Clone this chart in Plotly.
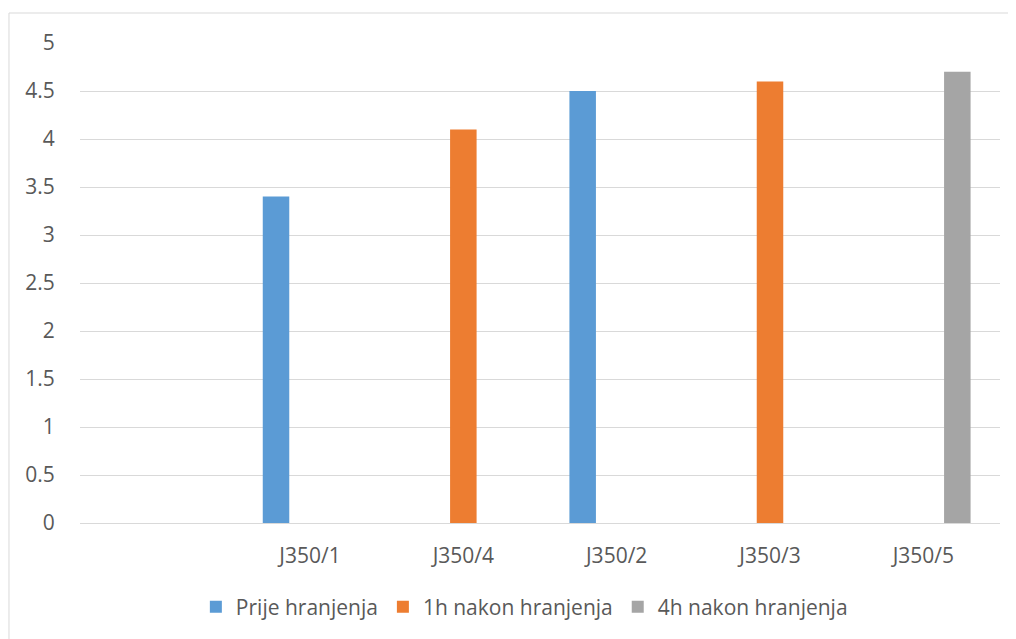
import plotly.graph_objects as go

categories = ["J350/1", "J350/4", "J350/2", "J350/3", "J350/5"]
series_names = ["Prije hranjenja", "1h nakon hranjenja", "4h nakon hranjenja"]
prije = [3.4, None, 4.5, None, None]
nakon_1h = [None, 4.1, None, 4.6, None]
nakon_4h = [None, None, None, None, 4.7]
colors = ["#5B9BD5", "#ED7D31", "#A5A5A5"]
y_ticks = [0, 0.5, 1, 1.5, 2, 2.5, 3, 3.5, 4, 4.5, 5]

text_color = "#595959"
font_family = "Open Sans, sans-serif"

fig = go.Figure()
for name, vals, col in zip(series_names, [prije, nakon_1h, nakon_4h], colors):
    fig.add_trace(go.Bar(x=categories, y=vals, name=name, marker_color=col,
                         marker_line_width=0))

fig.update_layout(
    width=1016, height=639,
    margin=dict(l=72, r=24, t=35, b=124),
    paper_bgcolor="white", plot_bgcolor="white",
    barmode="group", bargap=0.335, bargroupgap=0.22,
    font=dict(family=font_family, color=text_color, size=21),
    showlegend=True,
    legend=dict(orientation="h", x=0.483, xanchor="center", y=-0.175, yanchor="middle",
                font=dict(size=21, color=text_color), itemwidth=30,
                traceorder="normal"),
    xaxis=dict(type="category", categoryorder="array", categoryarray=categories,
               range=[-1.5, 4.5], showgrid=False, showline=True, linecolor="#d9d9d9",
               linewidth=1, ticks="outside", ticklen=14, tickcolor="rgba(0,0,0,0)",
               tickfont=dict(size=21, color=text_color), zeroline=False),
    yaxis=dict(range=[0, 5], tickvals=y_ticks, ticktext=[f"{v:g}" for v in y_ticks],
               showgrid=True, gridcolor="#d9d9d9", gridwidth=1, zeroline=False,
               showline=False, ticks="outside", ticklen=20, tickcolor="rgba(0,0,0,0)",
               tickfont=dict(size=21, color=text_color)),
    shapes=[dict(type="rect", xref="paper", yref="paper",
                 x0=-0.0772, x1=1.02, y0=-0.25, y1=1.0625,
                 line=dict(color="#d9d9d9", width=1), fillcolor="rgba(0,0,0,0)", layer="below")],
)

fig.write_html("out.html")
